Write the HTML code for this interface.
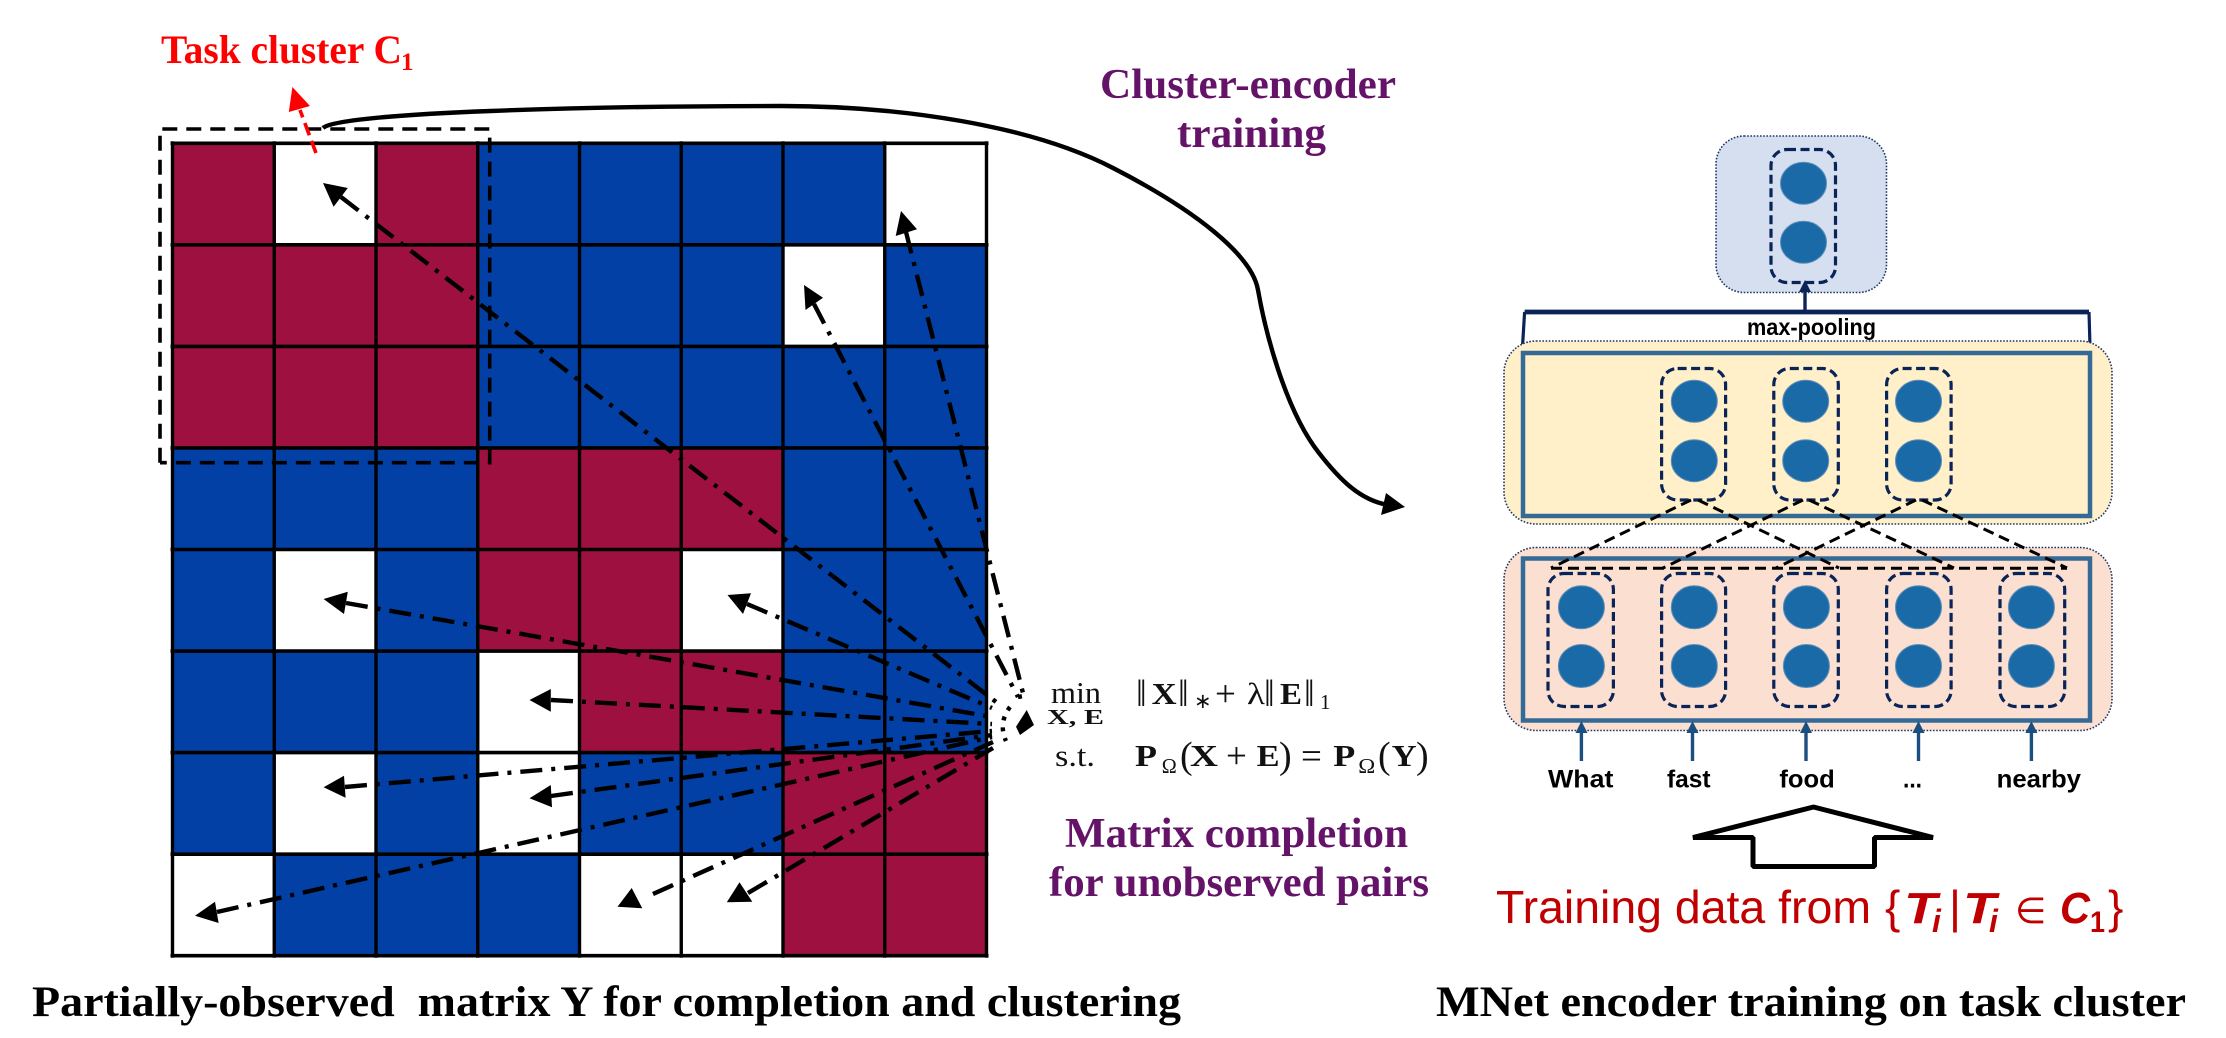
<!DOCTYPE html>
<html lang="en">
<head>
<meta charset="utf-8">
<title>Matrix completion and MNet encoder training</title>
<style>
html,body{margin:0;padding:0;background:#fff;width:2226px;height:1038px;overflow:hidden}
svg{display:block}
text{font-family:"Liberation Serif",serif}
.cap{font-weight:bold;font-size:43px;fill:#000}
.pur{font-weight:bold;font-size:42px;fill:#641368}
.word{font-family:"Liberation Sans",sans-serif;font-weight:bold;font-size:25px;fill:#000}
.dd{fill:none;stroke:#000;stroke-width:4.4;stroke-dasharray:22 9 4 9}
.dots{fill:none;stroke:#000;stroke-width:4.4;stroke-dasharray:4 7}
.pill{fill:none;stroke:#0B2458;stroke-width:3.2;stroke-dasharray:9 4.5}
.nd{fill:#1A6AA8;stroke:#5f8fb5;stroke-width:1}
.inner{fill:none;stroke:#346A95;stroke-width:4.5}
.box{stroke:#1F3864;stroke-width:1.6;stroke-dasharray:1.6 1.6}
.x{fill:none;stroke:#000;stroke-width:3;stroke-dasharray:11 6}
.up{stroke:#1A4F7F;stroke-width:3.4;fill:none}
.m{font-size:31px;fill:#111}
.b{font-size:31px;font-weight:bold;fill:#111}
.nrm{font-size:38px;fill:#111}
.sub{font-size:21px;fill:#111}
.big{font-size:37px;fill:#111}
.r{font-size:46px;fill:#C00000;font-family:"Liberation Sans",sans-serif}
.ri{font-family:"Liberation Sans",sans-serif;font-size:44px;font-weight:bold;font-style:italic;fill:#C00000}
</style>
</head>
<body>
<svg id="figure" xmlns="http://www.w3.org/2000/svg" width="2226" height="1038" viewBox="0 0 2226 1038">
  <g id="matrix"></g>

  <g>
    <path d="M160,462.7 V129 H489.7 V462.7 H160" fill="none" stroke="#000" stroke-width="3.6" stroke-dasharray="15 9"/>
  </g>

  <g>
    <line x1="316" y1="153" x2="300" y2="110" stroke="#f00" stroke-width="3.6" stroke-dasharray="13 6"/>
    <polygon points="292.4,87 288.8,112 310,106" fill="#f00"/>
    <text x="161" y="63" font-size="40" font-weight="bold" fill="#f00" textLength="241" lengthAdjust="spacingAndGlyphs">Task cluster C</text>
    <text x="401" y="70" font-size="25" font-weight="bold" fill="#f00">1</text>
  </g>

  <g>
    <line class="dd" x1="341" y1="197" x2="1000" y2="705"/>
    <line class="dd" x1="814" y1="304" x2="1018" y2="697"/>
    <line class="dd" x1="906" y1="232" x2="1024" y2="697"/>
    <line class="dd" x1="747" y1="604" x2="992" y2="708"/>
    <line class="dd" x1="346" y1="603" x2="992" y2="717"/>
    <line class="dd" x1="551" y1="700" x2="992" y2="724"/>
    <line class="dd" x1="345" y1="787" x2="992" y2="731"/>
    <line class="dd" x1="551" y1="796" x2="992" y2="735"/>
    <line class="dd" x1="217" y1="912" x2="992" y2="737"/>
    <line class="dd" x1="653" y1="894" x2="993" y2="742"/>
    <line class="dd" x1="748" y1="893" x2="993" y2="748"/>
    <path class="dots" d="M1010,707 C1003,716 1000,728 1006,741"/>
    <path class="dots" d="M1018,697 L1024,696"/>
    <polygon points="1026.7,710 1016,726.7 1020,735 1034,725"/>
    <polygon points="323,183 333.6,206.7 347.8,188"/>
    <polygon points="804,285 805.5,310 823,297.7"/>
    <polygon points="901,211 895.7,236 917,229.3"/>
    <polygon points="727.5,595 743,614 751,593.3"/>
    <polygon points="323.6,599 344,614 347.8,591.7"/>
    <polygon points="529.5,700 550.8,689 550.8,711.7"/>
    <polygon points="323.6,787.3 344,775.7 345.6,797.7"/>
    <polygon points="529.5,798.3 550.8,785 552,807.3"/>
    <polygon points="195,915.7 215,901.7 218.6,923"/>
    <polygon points="631.7,888 617.5,906.7 642.3,908.3"/>
    <polygon points="739.5,882.3 726.8,902.3 752.3,901.7"/>
  </g>

  <g>
    <path d="M323,128 C340,112 600,106 781,106 C900,106 1030,125 1113,168 C1195,210 1252,255 1258,290 C1265,330 1285,410 1319,453 C1340,480 1360,500 1388,505" fill="none" stroke="#000" stroke-width="4.4"/>
    <polygon points="1405,507 1386,493 1381,515"/>
  </g>

  <g>
    <text class="pur" x="1100" y="98" textLength="296" lengthAdjust="spacingAndGlyphs">Cluster-encoder</text>
    <text class="pur" x="1177" y="147" textLength="149" lengthAdjust="spacingAndGlyphs">training</text>
  </g>

  <g>
    <text class="m" x="1051" y="703" textLength="50" lengthAdjust="spacingAndGlyphs">min</text>
    <text x="1047" y="724" font-size="21" font-weight="bold" fill="#111" textLength="57" lengthAdjust="spacingAndGlyphs">X, E</text>
    <text class="nrm" x="1136" y="706">‖</text>
    <text class="b" x="1151.7" y="704" textLength="25" lengthAdjust="spacingAndGlyphs">X</text>
    <text class="nrm" x="1178" y="706">‖</text>
    <text class="sub" x="1194" y="708">∗</text>
    <text class="big" x="1215" y="706">+</text>
    <text class="m" x="1247" y="704" textLength="18" lengthAdjust="spacingAndGlyphs">λ</text>
    <text class="nrm" x="1264" y="706">‖</text>
    <text class="b" x="1280" y="704" textLength="22" lengthAdjust="spacingAndGlyphs">E</text>
    <text class="nrm" x="1304" y="706">‖</text>
    <text class="sub" x="1320" y="709">1</text>

    <text class="m" x="1055" y="766" textLength="40" lengthAdjust="spacingAndGlyphs">s.t.</text>
    <text class="b" x="1135" y="766" textLength="22" lengthAdjust="spacingAndGlyphs">P</text>
    <text class="sub" x="1161.7" y="773" textLength="15" lengthAdjust="spacingAndGlyphs">Ω</text>
    <text class="nrm" x="1180" y="768">(</text>
    <text class="b" x="1190" y="766" textLength="28" lengthAdjust="spacingAndGlyphs">X</text>
    <text class="big" x="1226" y="768">+</text>
    <text class="b" x="1256.7" y="766" textLength="23" lengthAdjust="spacingAndGlyphs">E</text>
    <text class="nrm" x="1279" y="768">)</text>
    <text class="big" x="1301" y="768">=</text>
    <text class="b" x="1333.3" y="766" textLength="22" lengthAdjust="spacingAndGlyphs">P</text>
    <text class="sub" x="1358.3" y="773" textLength="17" lengthAdjust="spacingAndGlyphs">Ω</text>
    <text class="nrm" x="1378" y="768">(</text>
    <text class="b" x="1391.7" y="766" textLength="25" lengthAdjust="spacingAndGlyphs">Y</text>
    <text class="nrm" x="1416" y="768">)</text>
  </g>

  <g>
    <text class="pur" x="1065" y="847" textLength="343" lengthAdjust="spacingAndGlyphs">Matrix completion</text>
    <text class="pur" x="1049" y="896" textLength="380" lengthAdjust="spacingAndGlyphs">for unobserved pairs</text>
  </g>

  <g>
    <rect class="box" x="1716" y="136" width="170.5" height="156.5" rx="28" fill="#D5DFF0"/>
    <rect class="pill" x="1771" y="149.5" width="64.5" height="133" rx="16"/>
    <ellipse class="nd" cx="1803.5" cy="183.3" rx="23" ry="21"/>
    <ellipse class="nd" cx="1803.5" cy="242.3" rx="23" ry="21"/>
  </g>

  <g>
    <line x1="1805" y1="312" x2="1805" y2="290" stroke="#0B2458" stroke-width="3.4"/>
    <polygon points="1805,280 1799,292 1811,292" fill="#0B2458"/>
    <path d="M1524.6,312 H2089" fill="none" stroke="#0B2458" stroke-width="4.8"/>
    <path d="M1522.5,346.7 L1524.6,312 M2089,312 L2090,346.7" fill="none" stroke="#0B2458" stroke-width="3.2"/>
    <text x="1747" y="335" font-size="23" style="font-family:'Liberation Sans',sans-serif;font-weight:bold" textLength="129" lengthAdjust="spacingAndGlyphs">max-pooling</text>
  </g>

  <g>
    <rect class="box" x="1504" y="341" width="608" height="183" rx="32" fill="#FFF0C9"/>
    <rect class="inner" x="1523" y="353" width="567" height="163"/>
    <rect class="pill" x="1661.6" y="368.5" width="64" height="131.5" rx="16"/>
    <rect class="pill" x="1773.8" y="368.5" width="64.5" height="131.5" rx="16"/>
    <rect class="pill" x="1886.6" y="368.5" width="64.5" height="131.5" rx="16"/>
    <ellipse class="nd" cx="1694.3" cy="401.3" rx="23" ry="21"/>
    <ellipse class="nd" cx="1694.3" cy="460.7" rx="23" ry="21"/>
    <ellipse class="nd" cx="1805.7" cy="401.3" rx="23" ry="21"/>
    <ellipse class="nd" cx="1805.7" cy="460.7" rx="23" ry="21"/>
    <ellipse class="nd" cx="1918.5" cy="401.3" rx="23" ry="21"/>
    <ellipse class="nd" cx="1918.5" cy="460.7" rx="23" ry="21"/>
  </g>

  <g>
    <rect class="box" x="1504" y="547.5" width="608" height="183" rx="32" fill="#FBE0D2"/>
    <rect class="inner" x="1523" y="558.5" width="567" height="162"/>
    <rect class="pill" x="1548" y="573.5" width="65.4" height="133" rx="16"/>
    <rect class="pill" x="1661.6" y="573.5" width="64" height="133" rx="16"/>
    <rect class="pill" x="1773.8" y="573.5" width="64.5" height="133" rx="16"/>
    <rect class="pill" x="1886.6" y="573.5" width="64.5" height="133" rx="16"/>
    <rect class="pill" x="2000" y="573.5" width="64.7" height="133" rx="16"/>
    <ellipse class="nd" cx="1581.4" cy="607.3" rx="23" ry="21.5"/>
    <ellipse class="nd" cx="1581.4" cy="666" rx="23" ry="21.5"/>
    <ellipse class="nd" cx="1694.3" cy="607.3" rx="23" ry="21.5"/>
    <ellipse class="nd" cx="1694.3" cy="666" rx="23" ry="21.5"/>
    <ellipse class="nd" cx="1806.4" cy="607.3" rx="23" ry="21.5"/>
    <ellipse class="nd" cx="1806.4" cy="666" rx="23" ry="21.5"/>
    <ellipse class="nd" cx="1918.5" cy="607.3" rx="23" ry="21.5"/>
    <ellipse class="nd" cx="1918.5" cy="666" rx="23" ry="21.5"/>
    <ellipse class="nd" cx="2031.4" cy="607.3" rx="23" ry="21.5"/>
    <ellipse class="nd" cx="2031.4" cy="666" rx="23" ry="21.5"/>
  </g>

  <g>
    <line class="x" x1="1691" y1="500" x2="1551" y2="568"/>
    <line class="x" x1="1698" y1="500" x2="1839" y2="568"/>
    <line class="x" x1="1803" y1="500" x2="1663" y2="568"/>
    <line class="x" x1="1809" y1="500" x2="1954" y2="568"/>
    <line class="x" x1="1916" y1="500" x2="1776" y2="568"/>
    <line class="x" x1="1922" y1="500" x2="2067" y2="568"/>
    <line class="x" x1="1551" y1="568.3" x2="2067" y2="568.3"/>
  </g>

  <g>
    <line class="up" x1="1581.4" y1="761" x2="1581.4" y2="730"/><polygon points="1581.4,721 1575.5,733 1587.5,733" fill="#1A4F7F"/>
    <line class="up" x1="1692.5" y1="761" x2="1692.5" y2="730"/><polygon points="1692.5,721 1686.5,733 1698.5,733" fill="#1A4F7F"/>
    <line class="up" x1="1806" y1="761" x2="1806" y2="730"/><polygon points="1806,721 1800,733 1812,733" fill="#1A4F7F"/>
    <line class="up" x1="1918.5" y1="761" x2="1918.5" y2="730"/><polygon points="1918.5,721 1912.5,733 1924.5,733" fill="#1A4F7F"/>
    <line class="up" x1="2031.4" y1="761" x2="2031.4" y2="730"/><polygon points="2031.4,721 2025.4,733 2037.4,733" fill="#1A4F7F"/>
  </g>

  <g>
    <text class="word" x="1548" y="787.7" textLength="65.4" lengthAdjust="spacingAndGlyphs">What</text>
    <text class="word" x="1667" y="787.7" textLength="43.6" lengthAdjust="spacingAndGlyphs">fast</text>
    <text class="word" x="1779.4" y="787.7" textLength="55.4" lengthAdjust="spacingAndGlyphs">food</text>
    <text class="word" x="1903" y="787.7" textLength="19" lengthAdjust="spacingAndGlyphs">...</text>
    <text class="word" x="1996.6" y="787.7" textLength="84.4" lengthAdjust="spacingAndGlyphs">nearby</text>
  </g>

  <polygon points="1813.5,807 1933,837.5 1874.5,837.5 1874.5,866.5 1753,866.5 1753,837.5 1693,837.5" fill="#fff" stroke="#000" stroke-width="5" stroke-linejoin="bevel"/>

  <g>
    <text class="r" x="1496" y="923" textLength="375" lengthAdjust="spacingAndGlyphs">Training data from</text>
    <text class="r" x="1885" y="923">{</text>
    <text class="ri" x="1904" y="923" textLength="33" lengthAdjust="spacingAndGlyphs">T</text>
    <text class="ri" x="1932" y="932" style="font-size:32px">i</text>
    <text class="r" x="1949" y="923">|</text>
    <text class="ri" x="1963" y="923" textLength="33" lengthAdjust="spacingAndGlyphs">T</text>
    <text class="ri" x="1989" y="932" style="font-size:32px">i</text>
    <text class="r" x="2015" y="923" style="font-family:'DejaVu Sans',sans-serif;font-size:36px">∈</text>
    <text class="ri" x="2060" y="923" textLength="30" lengthAdjust="spacingAndGlyphs">C</text>
    <text class="ri" x="2090" y="932" style="font-size:30px;font-style:normal" textLength="15" lengthAdjust="spacingAndGlyphs">1</text>
    <text class="r" x="2108" y="923">}</text>
  </g>

  <text class="cap" x="32" y="1016" textLength="1149" lengthAdjust="spacingAndGlyphs" xml:space="preserve">Partially-observed  matrix Y for completion and clustering</text>
  <text class="cap" x="1436" y="1016" textLength="750" lengthAdjust="spacingAndGlyphs">MNet encoder training on task cluster</text>
</svg>
<script>
// Observation matrix: m = task-related block (maroon), b = unrelated (blue), o = unobserved (white)
const matrixRows = [
  "mombbbbo",
  "mmmbbbob",
  "mmmbbbbb",
  "bbbmmmbb",
  "bobmmobb",
  "bbbommbb",
  "bobobbmm",
  "obbboomm"
];
const stateColors = { m: "#9E1040", b: "#0340A6", o: "#FFFFFF" };

const NS = "http://www.w3.org/2000/svg";
const matrixGroup = document.getElementById("matrix");
const xScale = col => 172.5 + col * 101.75;
const yScale = row => 143.3 + row * 101.55;

matrixRows.forEach((rowStates, row) => {
  [...rowStates].forEach((state, col) => {
    const cell = document.createElementNS(NS, "rect");
    cell.setAttribute("x", xScale(col));
    cell.setAttribute("y", yScale(row));
    cell.setAttribute("width", xScale(col + 1) - xScale(col));
    cell.setAttribute("height", yScale(row + 1) - yScale(row));
    cell.setAttribute("fill", stateColors[state]);
    
    
    matrixGroup.appendChild(cell);
  });
});

for (let i = 0; i <= matrixRows.length; i++) {
  const vLine = document.createElementNS(NS, "line");
  vLine.setAttribute("x1", xScale(i));
  vLine.setAttribute("x2", xScale(i));
  vLine.setAttribute("y1", yScale(0) - 2);
  vLine.setAttribute("y2", yScale(matrixRows.length) + 2);
  vLine.setAttribute("stroke", "#000");
  vLine.setAttribute("stroke-width", "3.4");
  
  
  matrixGroup.appendChild(vLine);

  const hLine = document.createElementNS(NS, "line");
  hLine.setAttribute("x1", xScale(0) - 2);
  hLine.setAttribute("x2", xScale(matrixRows.length) + 2);
  hLine.setAttribute("y1", yScale(i));
  hLine.setAttribute("y2", yScale(i));
  hLine.setAttribute("stroke", "#000");
  hLine.setAttribute("stroke-width", "3.6");
  
  
  matrixGroup.appendChild(hLine);
}
</script>
</body>
</html>
